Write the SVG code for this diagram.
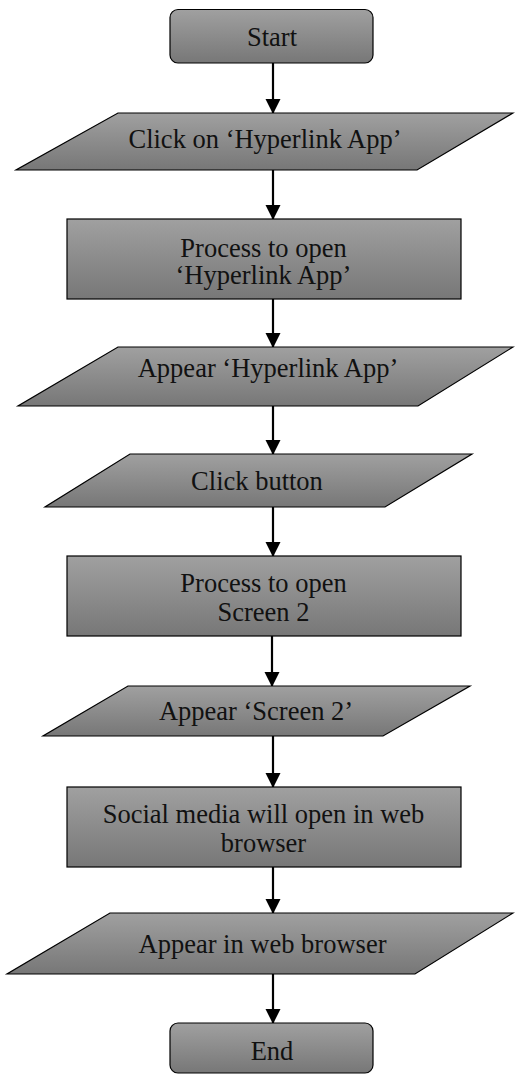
<svg xmlns="http://www.w3.org/2000/svg" width="515" height="1075" viewBox="0 0 515 1075">
<defs>
<linearGradient id="g" x1="0" y1="0" x2="0" y2="1">
<stop offset="0" stop-color="#a0a0a0"/>
<stop offset="1" stop-color="#777777"/>
</linearGradient>
<marker id="ah" markerUnits="userSpaceOnUse" markerWidth="16" markerHeight="16" refX="14" refY="7.5" orient="auto">
<path d="M0,0 L15,7.5 L0,15 Z" fill="#000"/>
</marker>
<style>
.s{fill:url(#g);stroke:#000;stroke-width:1.2}
.t{font-family:"Liberation Serif","Times New Roman",serif;font-size:26.5px;fill:#111;text-anchor:middle}
.c{stroke:#000;stroke-width:2.2;fill:none;marker-end:url(#ah)}
</style>
</defs>
<rect width="515" height="1075" fill="#fff"/>
<g id="connectors">
<line class="c" x1="273" y1="63" x2="273" y2="113"/>
<line class="c" x1="273" y1="170" x2="273" y2="219"/>
<line class="c" x1="273" y1="299" x2="273" y2="347"/>
<line class="c" x1="273" y1="406" x2="273" y2="454"/>
<line class="c" x1="273" y1="507" x2="273" y2="556"/>
<line class="c" x1="272" y1="636" x2="272" y2="686"/>
<line class="c" x1="273" y1="736" x2="273" y2="787"/>
<line class="c" x1="273" y1="867" x2="273" y2="913"/>
<line class="c" x1="273" y1="974" x2="273" y2="1023"/>
</g>
<g id="start">
<rect class="s" x="170" y="9.5" width="203" height="53.5" rx="8"/>
<text class="t" x="272" y="46">Start</text>
</g>
<g id="click-hyperlink">
<polygon class="s" points="118,113 513,113 417,170 16,170"/>
<text class="t" x="265" y="148">Click on ‘Hyperlink App’</text>
</g>
<g id="process-open-app">
<rect class="s" x="67" y="219" width="394" height="80"/>
<text class="t" x="263.5" y="256.5">Process to open</text>
<text class="t" x="263.5" y="284">‘Hyperlink App’</text>
</g>
<g id="appear-app">
<polygon class="s" points="118,347 513,347 418,406 18,406"/>
<text class="t" x="268" y="377">Appear ‘Hyperlink App’</text>
</g>
<g id="click-button">
<polygon class="s" points="130,454 472,454 385,507 45,507"/>
<text class="t" x="257" y="490">Click button</text>
</g>
<g id="process-screen2">
<rect class="s" x="67" y="556" width="394" height="80"/>
<text class="t" x="263.5" y="592">Process to open</text>
<text class="t" x="263.5" y="621">Screen 2</text>
</g>
<g id="appear-screen2">
<polygon class="s" points="128,686 470,686 383,736 43,736"/>
<text class="t" x="256" y="720">Appear ‘Screen 2’</text>
</g>
<g id="social-media">
<rect class="s" x="67" y="787" width="394" height="80"/>
<text class="t" x="263.5" y="823">Social media will open in web</text>
<text class="t" x="263.5" y="851.5">browser</text>
</g>
<g id="appear-browser">
<polygon class="s" points="110,913 513,913 415,974 7,974"/>
<text class="t" x="262.5" y="953">Appear in web browser</text>
</g>
<g id="end">
<rect class="s" x="170" y="1023" width="203" height="50" rx="8"/>
<text class="t" x="272" y="1060">End</text>
</g>
</svg>
